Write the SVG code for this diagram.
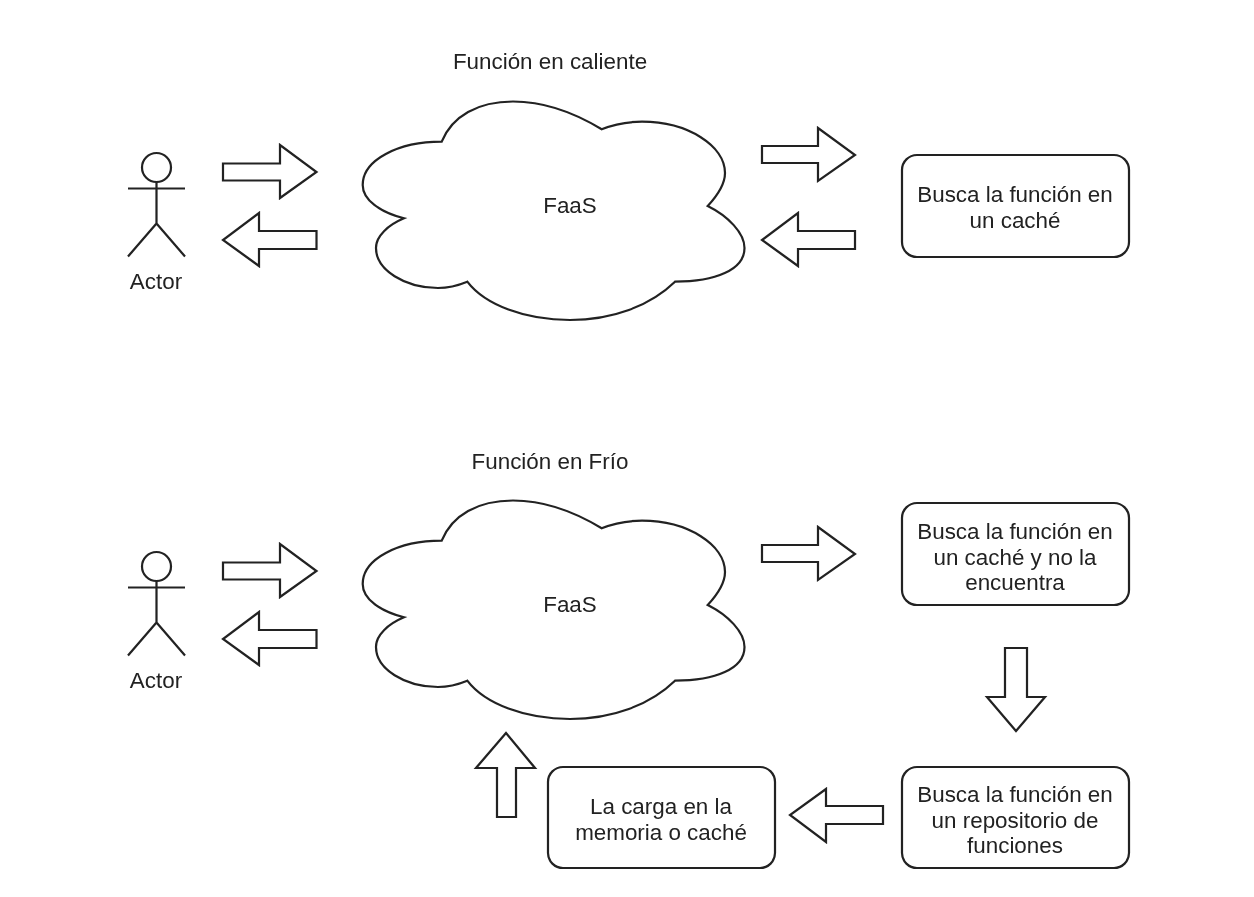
<svg xmlns="http://www.w3.org/2000/svg" width="1254" height="897" viewBox="0 0 1254 897">
<style>
.s{fill:#fff;stroke:#222;stroke-width:2.2;stroke-linejoin:miter}
.l{fill:none;stroke:#222;stroke-width:2.2}
text{font-family:"Liberation Sans",Arial,sans-serif;font-size:22.4px;fill:#222;text-anchor:middle}
</style>
<defs>
<filter id="soft" filterUnits="userSpaceOnUse" x="0" y="0" width="1254" height="897"><feGaussianBlur stdDeviation="0.6"/></filter>
<path id="cloud" d="M441.700 141.700C452 116 478 101.500 513 101.500C545 101.500 575 113 601.700 129.300C612 125 628 121.700 642 121.700C688 121.700 725 146 725 173C725 185 717 196 707.700 206C728 216 744.500 233 744.500 248C744.500 270 715 281.700 675 281.700C650 306 612 320 570 320C525 320 485 305 467.300 281.700C458 285.500 450 288 438 288C405 288 376 270 376 248C376 236 388 225 404 218.300C380 212 362.700 200 362.700 185C362.700 160 398 141.700 441.700 141.700Z"/>
<g id="actor-shape"><circle cx="156.500" cy="167.500" r="14.500"/><path d="M128 188.500H185M156.500 182V223.500M128 256.500L156.500 223.500L185 256.500"/></g>
<path id="arrow-right" d="M223 163.500H280V145L316.500 172L280 198V180.500H223Z"/>
<path id="arrow-left" d="M316.500 231H259V213L223 240L259 266V249H316.500Z"/>
</defs>
<rect width="1254" height="897" fill="#fff"/>
<g filter="url(#soft)">
<g id="titles">
<text id="title-hot" x="550" y="69">Función en caliente</text>
<text id="title-cold" x="550" y="468.500">Función en Frío</text>
</g>
<g id="connectors">
<use href="#arrow-right" class="s"/>
<use href="#arrow-left" class="s"/>
<path class="s" d="M762 146H818V128L855 155L818 181V163H762Z"/>
<path class="s" d="M855 231H798V213L762 240L798 266V249H855Z"/>
<use href="#arrow-right" class="s" y="399"/>
<use href="#arrow-left" class="s" y="399"/>
<path class="s" d="M762 545H818V527L855 554L818 580V562H762Z"/>
<path class="s" d="M1005 648H1027V697H1045L1016 731L987 697H1005Z"/>
<path class="s" d="M883 806H826V789L790 815L826 842V824H883Z"/>
<path class="s" d="M497 817V768H476L506 733L535 768H516V817Z"/>
</g>
<g id="actor-1"><use href="#actor-shape" class="l"/><text x="156" y="289">Actor</text></g>
<g id="cloud-1"><use href="#cloud" class="s"/><text x="570" y="213">FaaS</text></g>
<g id="box-cache"><rect class="s" x="902" y="155" width="227" height="102" rx="15"/><text x="1015" y="201.500">Busca la función en</text><text x="1015" y="227.500">un caché</text></g>
<g id="actor-2"><use href="#actor-shape" class="l" y="399"/><text x="156" y="688">Actor</text></g>
<g id="cloud-2"><use href="#cloud" class="s" y="399"/><text x="570" y="612">FaaS</text></g>
<g id="box-miss"><rect class="s" x="902" y="503" width="227" height="102" rx="15"/><text x="1015" y="539">Busca la función en</text><text x="1015" y="564.500">un caché y no la</text><text x="1015" y="590">encuentra</text></g>
<g id="box-repo"><rect class="s" x="902" y="767" width="227" height="101" rx="15"/><text x="1015" y="802">Busca la función en</text><text x="1015" y="827.500">un repositorio de</text><text x="1015" y="853">funciones</text></g>
<g id="box-load"><rect class="s" x="548" y="767" width="227" height="101" rx="15"/><text x="661" y="814">La carga en la</text><text x="661" y="839.500">memoria o caché</text></g>
</g>
</svg>
